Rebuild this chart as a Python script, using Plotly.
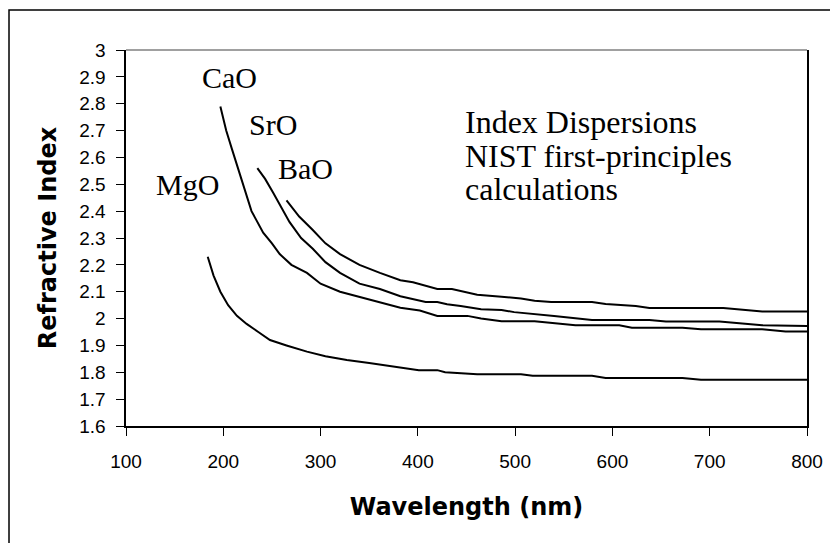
import plotly.graph_objects as go

# ---- data ----
cao_wl = [197, 203, 209, 215, 221, 229, 241, 250, 258, 270, 286, 300, 320, 340, 361, 382, 402, 420, 451, 465, 486, 520, 562, 607, 620, 672, 691, 754, 778, 800]
cao_n = [2.79, 2.70, 2.63, 2.56, 2.49, 2.40, 2.32, 2.28, 2.24, 2.20, 2.17, 2.13, 2.10, 2.08, 2.06, 2.04, 2.03, 2.01, 2.01, 2.00, 1.99, 1.99, 1.975, 1.975, 1.966, 1.966, 1.96, 1.96, 1.952, 1.952]

sro_wl = [235, 243, 251, 260, 268, 280, 292, 305, 320, 340, 361, 382, 402, 408, 420, 430, 444, 465, 486, 499, 540, 579, 638, 655, 710, 754, 800]
sro_n = [2.56, 2.52, 2.47, 2.41, 2.36, 2.30, 2.26, 2.21, 2.17, 2.13, 2.11, 2.083, 2.069, 2.062, 2.062, 2.053, 2.047, 2.035, 2.032, 2.024, 2.01, 1.995, 1.995, 1.989, 1.989, 1.975, 1.972]

bao_wl = [265, 278, 292, 305, 320, 340, 361, 382, 395, 420, 435, 461, 486, 506, 520, 537, 579, 593, 624, 638, 714, 754, 800]
bao_n = [2.44, 2.38, 2.33, 2.28, 2.24, 2.20, 2.17, 2.143, 2.135, 2.11, 2.11, 2.089, 2.081, 2.075, 2.066, 2.062, 2.062, 2.054, 2.047, 2.039, 2.039, 2.026, 2.026]

mgo_wl = [184, 190, 197, 205, 214, 224, 236, 248, 265, 286, 305, 327, 350, 382, 401, 420, 428, 461, 506, 518, 579, 593, 672, 691, 800]
mgo_n = [2.23, 2.16, 2.10, 2.05, 2.01, 1.98, 1.95, 1.92, 1.90, 1.877, 1.86, 1.846, 1.835, 1.818, 1.808, 1.808, 1.80, 1.793, 1.793, 1.787, 1.787, 1.779, 1.779, 1.772, 1.772]

series_names = ["CaO", "SrO", "BaO", "MgO"]
note_lines = ["Index Dispersions", "NIST first-principles", "calculations"]
x_ticks = [100, 200, 300, 400, 500, 600, 700, 800]
y_ticks = [1.6, 1.7, 1.8, 1.9, 2.0, 2.1, 2.2, 2.3, 2.4, 2.5, 2.6, 2.7, 2.8, 2.9, 3.0]
y_tick_text = ["1.6", "1.7", "1.8", "1.9", "2", "2.1", "2.2", "2.3", "2.4", "2.5", "2.6", "2.7", "2.8", "2.9", "3"]

x_range = [100, 800]
y_range = [1.6, 3.0]

fig = go.Figure()
for name, wl, n in zip(series_names, [cao_wl, sro_wl, bao_wl, mgo_wl], [cao_n, sro_n, bao_n, mgo_n]):
    fig.add_trace(go.Scatter(x=wl, y=n, mode="lines", name=name,
                             line=dict(color="black", width=2), showlegend=False))

serif = "Liberation Serif"
sans = "Liberation Sans"
bold_sans = "DejaVu Sans"

for txt, x, y in zip(series_names, [206, 250.6, 285, 163.2], [2.899, 2.724, 2.557, 2.501]):
    fig.add_annotation(x=x, y=y, xref="x", yref="y", text=txt, showarrow=False,
                       font=dict(family=serif, size=30, color="black"))

for txt, y in zip(note_lines, [2.732, 2.605, 2.482]):
    fig.add_annotation(x=446, y=y, xref="x", yref="y", xanchor="left", yanchor="middle",
                       align="left", showarrow=False, text=txt,
                       font=dict(family=serif, size=32, color="black"))

# outer chart border (cut off at right and bottom)
fig.add_shape(type="rect", xref="paper", yref="paper",
              x0=-0.1718, x1=1.06, y0=-0.33, y1=1.1064,
              line=dict(color="black", width=1.5), layer="below")
# plot-area border top
fig.add_shape(type="line", xref="paper", yref="paper", x0=0, x1=1, y0=1, y1=1,
              line=dict(color="#808080", width=1.5))

pad = "\u00a0\u200a"

fig.update_layout(
    width=830, height=535,
    margin=dict(l=118, r=31, t=42, b=117),
    paper_bgcolor="white", plot_bgcolor="white",
    font=dict(family=sans, color="black"),
    xaxis=dict(range=x_range, tickvals=x_ticks, showgrid=False, zeroline=False,
               showline=True, linecolor="black", linewidth=1.5, mirror=False,
               ticks="outside", ticklen=8, tickcolor="black", tickwidth=1,
               showticklabels=False),
    yaxis=dict(range=y_range, tickvals=y_ticks, ticktext=[t + pad for t in y_tick_text],
               showgrid=False, zeroline=False,
               showline=True, linecolor="black", linewidth=1.5, mirror=True,
               ticks="outside", ticklen=8, tickcolor="black", tickwidth=1,
               tickfont=dict(family=sans, size=19, color="black"),
               title=dict(text="<b>Refractive Index</b>",
                          font=dict(family=bold_sans, size=24, color="black"), standoff=16)),
    # overlay x axis carrying the tick labels a little further below the axis
    xaxis2=dict(overlaying="x", anchor="y", side="bottom", range=x_range, tickvals=x_ticks,
                showgrid=False, zeroline=False, showline=False,
                ticks="outside", ticklen=18, tickcolor="rgba(0,0,0,0)",
                tickfont=dict(family=sans, size=19, color="black"),
                title=dict(text="<b>Wavelength (nm)</b>",
                           font=dict(family=bold_sans, size=24, color="black"), standoff=27)),
)
# invisible helper trace so the overlay axis is drawn
fig.add_trace(go.Scatter(x=x_range, y=y_range, xaxis="x2", yaxis="y", mode="markers",
                         marker=dict(opacity=0), showlegend=False, hoverinfo="skip"))

fig.write_html("out.html")
